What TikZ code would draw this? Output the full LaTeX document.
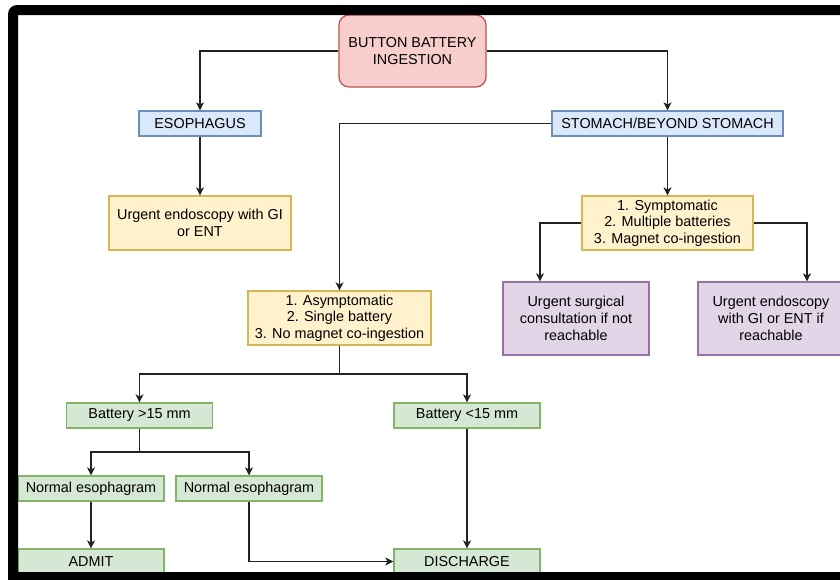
\documentclass[tikz,border=0pt]{standalone}
\usepackage{fontspec}
\setmainfont{Liberation Sans}
\usetikzlibrary{arrows.meta}
\definecolor{pinkF}{HTML}{F8CECC}\definecolor{pinkD}{HTML}{B85450}
\definecolor{blueF}{HTML}{DAE8FC}\definecolor{blueD}{HTML}{6C8EBF}
\definecolor{yelF}{HTML}{FFF2CC}\definecolor{yelD}{HTML}{D6B656}
\definecolor{purF}{HTML}{E1D5E7}\definecolor{purD}{HTML}{9673A6}
\definecolor{grnF}{HTML}{D5E8D4}\definecolor{grnD}{HTML}{82B366}
\definecolor{lineC}{HTML}{222222}
\tikzset{
  box/.style={draw, line width=1.2pt, inner sep=0pt, align=center,
    font=\fontsize{14.4}{16.7}\selectfont, text=black},
  pinkbox/.style={box, fill=pinkF, draw=pinkD, rounded corners=10pt},
  bluebox/.style={box, fill=blueF, draw=blueD},
  yelbox/.style={box, fill=yelF, draw=yelD},
  purbox/.style={box, fill=purF, draw=purD},
  grnbox/.style={box, fill=grnF, draw=grnD},
  conn/.style={draw=lineC, line width=1.2pt},
  arr/.style={conn, -{Stealth[length=8pt,width=8pt,inset=2pt]}},
}
\begin{document}
\begin{tikzpicture}[x=1pt,y=-1pt]
\useasboundingbox (0,0) rectangle (840,579);
\clip (0,0) rectangle (840,579);
\fill[white] (0,0) rectangle (840,579);
% nodes
\node[pinkbox, minimum width=147pt, minimum height=72pt] (top) at (412.5,51) {BUTTON BATTERY\\INGESTION};
\node[bluebox, minimum width=122pt, minimum height=25pt] (esoph) at (200,123.5) {ESOPHAGUS};
\node[bluebox, minimum width=231pt, minimum height=25pt] (stom) at (667.5,123.5) {STOMACH/BEYOND STOMACH};
\node[yelbox, minimum width=182pt, minimum height=54pt] (endo) at (200,223) {Urgent endoscopy with GI\\or ENT};
\node[yelbox, minimum width=171pt, minimum height=54pt] (sympt) at (667.5,223) {1. Symptomatic\\2. Multiple batteries\\3. Magnet co-ingestion};
\node[yelbox, minimum width=183pt, minimum height=54pt] (asym) at (339.5,318) {1. Asymptomatic\\2. Single battery\\3. No magnet co-ingestion};
\node[purbox, minimum width=146pt, minimum height=73pt] (pur1) at (576,318.5) {Urgent surgical\\consultation if not\\reachable};
\node[purbox, minimum width=146pt, minimum height=73pt] (pur2) at (771,318.5) {Urgent endoscopy\\with GI or ENT if\\reachable};
\node[grnbox, minimum width=146pt, minimum height=25pt] (bat1) at (139.5,415.5) {Battery >15 mm};
\node[grnbox, minimum width=146pt, minimum height=25pt] (bat2) at (467,415.5) {Battery <15 mm};
\node[grnbox, minimum width=146pt, minimum height=25pt] (ne1) at (91,488.5) {Normal esophagram};
\node[grnbox, minimum width=146pt, minimum height=25pt] (ne2) at (249,488.5) {Normal esophagram};
\node[grnbox, minimum width=146pt, minimum height=25pt] (admit) at (91,561.5) {ADMIT};
\node[grnbox, minimum width=146pt, minimum height=25pt] (disch) at (467,561.5) {DISCHARGE};
% connectors
\draw[arr] (top.west) -| (esoph.north);
\draw[arr] (top.east) -| (stom.north);
\draw[arr] (esoph.south) -- (endo.north);
\draw[arr] (stom.west) -| (asym.north);
\draw[arr] (stom.south) -- (sympt.north);
\draw[arr] (sympt.west) -| ([xshift=-36pt]pur1.north);
\draw[arr] (sympt.east) -| ([xshift=36pt]pur2.north);
\coordinate (j1) at (339.5,374);
\draw[conn] (asym.south) -- (j1);
\draw[arr] (j1) -| (bat1.north);
\draw[arr] (j1) -| (bat2.north);
\coordinate (j2) at (139.5,452);
\draw[conn] (bat1.south) -- (j2);
\draw[arr] (j2) -| (ne1.north);
\draw[arr] (j2) -| (ne2.north);
\draw[arr] (ne1.south) -- (admit.north);
\draw[arr] (ne2.south) |- (disch.west);
\draw[arr] (bat2.south) -- (disch.north);
% frame
\fill[black, even odd rule] [rounded corners=9pt] (8,5) rectangle (870,600) [sharp corners] (18,15) rectangle (860,572);
\end{tikzpicture}
\end{document}
